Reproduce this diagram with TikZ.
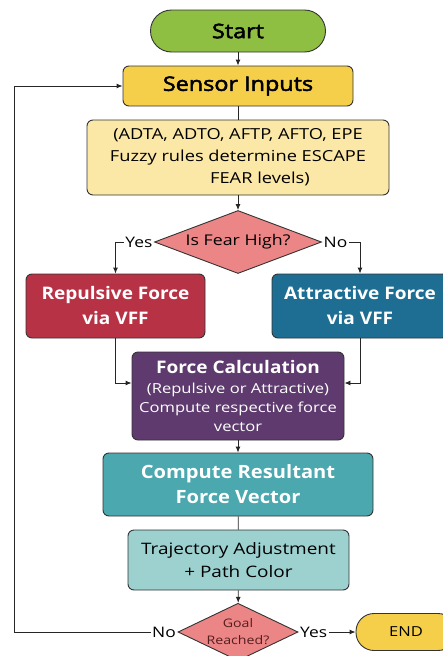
\documentclass[tikz,border=0pt]{standalone}
\usepackage{fontspec}
\setmainfont{Open Sans}[FakeStretch=1.2]
\newfontfamily\headfont{Open Sans}[FakeStretch=1.17, FakeBold=2.5]
\newfontfamily\whitehead{Open Sans}[FakeStretch=1.1]
\usetikzlibrary{positioning, arrows.meta, shapes.geometric}

\begin{document}
\begin{tikzpicture}[x=1pt,y=-1pt,
    box/.style={draw=black!80, line width=0.9pt, rounded corners=6pt, align=center, inner sep=0pt},
    decision/.style={diamond, draw=black!80, line width=0.9pt, fill=fearpink, inner sep=0pt, align=center},
    link/.style={draw=black!85, line width=0.9pt},
    arrow/.style={link, -{Latex[length=6pt,width=5pt]}},
    tag/.style={inner sep=1.5pt, font=\fontsize{14.5}{16}\selectfont}]

    % Colors
    \definecolor{startgreen}{RGB}{142,191,66}
    \definecolor{sensoryellow}{RGB}{245,207,74}
    \definecolor{fuzzyyellow}{RGB}{251,232,166}
    \definecolor{fearpink}{RGB}{236,133,134}
    \definecolor{repred}{RGB}{184,50,70}
    \definecolor{attblue}{RGB}{30,110,148}
    \definecolor{calcpurple}{RGB}{94,58,110}
    \definecolor{resteal}{RGB}{74,168,174}
    \definecolor{trajteal}{RGB}{156,209,208}
    \definecolor{goaltext}{RGB}{85,30,30}

    \useasboundingbox (0,0) rectangle (443,656);

    % ======================
    % Top: start and inputs
    % ======================
    \node[box, fill=startgreen, rounded corners=21pt, minimum width=175, minimum height=42,
          font=\fontsize{20}{22}\headfont] (start) at (238,31) {Start};

    \node[box, fill=sensoryellow, minimum width=230, minimum height=40,
          font=\fontsize{20}{24}\headfont] (sensor) at (238,86) {Sensor Inputs};

    \node[box, fill=fuzzyyellow, minimum width=302, minimum height=75,
          font=\fontsize{15.2}{22}\selectfont] (fuzzy) at (238,157.5)
          {(ADTA, ADTO, AFTP, AFTO, EPE\\Fuzzy rules determine ESCAPE\\\hspace*{44pt}FEAR levels)};

    % ======================
    % Fear decision
    % ======================
    \node[decision, shape aspect=2.65, minimum width=167, minimum height=63,
          font=\fontsize{14.8}{16}\selectfont] (fear) at (238,242) {Is Fear High?};
    \node[tag, anchor=east] (yes1) at (fear.west) {Yes};
    \node[tag, anchor=west] (no1) at (fear.east) {No};

    \node[box, fill=repred, text=white, minimum width=179, minimum height=64,
          font=\fontsize{17.3}{25}\whitehead\bfseries] (rep) at (115.5,306) {Repulsive Force\\via VFF};
    \node[box, fill=attblue, text=white, minimum width=176, minimum height=64,
          font=\fontsize{17.3}{25}\whitehead\bfseries] (att) at (360,306) {Attractive Force\\via VFF};

    % ======================
    % Force calculation
    % ======================
    \node[box, fill=calcpurple, text=white, minimum width=212, minimum height=88,
          font=\fontsize{13.8}{19}\selectfont] (calc) at (238,396)
          {{\fontsize{17.3}{19}\whitehead\bfseries Force Calculation}\\[1pt](Repulsive or Attractive)\\Compute respective force\\vector};

    \node[box, fill=resteal, text=white, minimum width=270, minimum height=63,
          font=\fontsize{18.3}{25}\whitehead\bfseries] (res) at (238,484.5) {Compute Resultant\\Force Vector};

    \node[box, fill=trajteal, minimum width=221, minimum height=60,
          font=\fontsize{15.8}{23}\selectfont] (traj) at (238.5,560) {Trajectory Adjustment\\+ Path Color};

    % ======================
    % Goal decision
    % ======================
    \node[decision, shape aspect=2, minimum width=120, minimum height=56, text=goaltext,
          font=\fontsize{11.8}{17}\selectfont] (goal) at (238,632) {Goal\\Reached?};
    \node[tag, anchor=east] (no2) at (goal.west) {No};
    \node[tag, anchor=west] (yes2) at (goal.east) {Yes};

    \node[box, fill=sensoryellow, rounded corners=18pt, minimum width=100, minimum height=37,
          font=\fontsize{13.8}{18}\selectfont] (end) at (406,632) {END};

    \coordinate (back) at (14,632);

    % Connectors
    \draw[arrow] (start) -- (sensor);
    \draw[link] (sensor) -- (fuzzy);
    \draw[arrow] (fuzzy) -- (fear);
    \draw[arrow] (yes1.west) -| (rep.north);
    \draw[arrow] (no1.east) -| (att.north);
    \draw[arrow] (rep.south) |- ([yshift=13pt]calc.west);
    \draw[arrow] (att.south) |- ([yshift=13pt]calc.east);
    \draw[arrow] (calc) -- (res);
    \draw[link] (res) -- (traj);
    \draw[arrow] (traj) -- (goal);
    \draw[link] (no2.west) -- (back);
    \draw[arrow] (back) |- (sensor.west);
    \draw[arrow] (yes2.east) -- (end);

\end{tikzpicture}
\end{document}
